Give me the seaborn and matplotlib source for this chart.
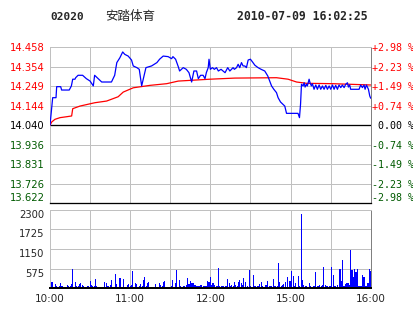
import matplotlib
matplotlib.use("Agg")
import matplotlib.pyplot as plt
import seaborn as sns

# ---------------- data ----------------
title_code = "02020"
title_name = "安踏体育"
title_time = "2010-07-09 16:02:25"

price_levels = [14.458, 14.354, 14.249, 14.144, 14.040, 13.936, 13.831, 13.726, 13.622]
price_labels = ["14.458", "14.354", "14.249", "14.144", "14.040", "13.936", "13.831", "13.726", "13.622"]
pct_labels = ["+2.98 %", "+2.23 %", "+1.49 %", "+0.74 %", " 0.00 %", "-0.74 %", "-1.49 %", "-2.23 %", "-2.98 %"]
prev_close = 14.040

vol_levels = [2300, 1725, 1150, 575]
vol_labels = ["2300", "1725", "1150", "575"]

time_ticks = [0, 30, 60, 90, 120, 150, 180, 210, 240]
time_labels = ["10:00", "", "11:00", "", "12:00", "", "15:00", "", "16:00"]

# minutes since 10:00 (trading minutes, lunch removed)
price_t = [0, 1.3, 2, 4.5, 5, 8, 8.7, 14.4, 16, 17, 18.7, 19.2, 21, 24.4, 27.2, 30, 32.4, 33.4,
           38.7, 46, 48.4, 50, 52.3, 54.4, 56, 58.5, 61, 62.3, 65, 66.8, 68.6, 71.8, 76, 80, 82,
           84.7, 88.4, 91, 92, 94, 96, 97, 99.7, 102, 104, 106, 107.7, 109.7, 111, 112.7, 114.6,
           116, 117, 118.4, 119, 120, 121.6, 123, 124.6, 126, 128, 131, 133, 134.6, 137, 138,
           139.6, 140.8, 142, 143.3, 144.5, 145.8, 147, 148.3, 150, 151.6, 153.3, 155.7, 158,
           160.7, 163, 165.8, 167.5, 169.5, 170.7, 172.5, 175.7, 177, 185.6, 186.7, 187.5, 188.2,
           189.4, 190.2, 190.9, 191.9, 192.6, 193.9, 194.6, 195.6, 196.4, 197.6, 198.9, 200.1,
           201.4, 202.6, 203.9, 205.1, 206.4, 207.6, 208.9, 210.1, 211.4, 212.6, 213.8, 215.1,
           216.3, 217.6, 218.8, 220.1, 221.3, 222.6, 223.3, 224.3, 225.0, 231.3, 232.5, 233.8,
           235.0, 235.8, 236.8, 237.5, 238.3, 239.3, 240]
price_v = [14.040, 14.134, 14.188, 14.188, 14.247, 14.247, 14.229, 14.229, 14.251, 14.287, 14.287,
           14.295, 14.308, 14.308, 14.290, 14.277, 14.251, 14.308, 14.272, 14.272, 14.308, 14.376,
           14.402, 14.433, 14.420, 14.411, 14.390, 14.358, 14.349, 14.340, 14.251, 14.349, 14.358,
           14.376, 14.394, 14.411, 14.408, 14.397, 14.408, 14.394, 14.354, 14.331, 14.349, 14.340,
           14.322, 14.272, 14.331, 14.331, 14.290, 14.308, 14.308, 14.290, 14.322, 14.349, 14.394,
           14.340, 14.349, 14.340, 14.349, 14.331, 14.340, 14.322, 14.349, 14.331, 14.349, 14.340,
           14.349, 14.367, 14.349, 14.376, 14.358, 14.358, 14.349, 14.390, 14.394, 14.379, 14.362,
           14.349, 14.340, 14.331, 14.304, 14.251, 14.233, 14.215, 14.188, 14.165, 14.143, 14.104,
           14.104, 14.081, 14.153, 14.260, 14.251, 14.268, 14.245, 14.260, 14.251, 14.287, 14.268,
           14.251, 14.263, 14.233, 14.256, 14.233, 14.256, 14.233, 14.251, 14.233, 14.254, 14.233,
           14.251, 14.233, 14.256, 14.233, 14.254, 14.233, 14.256, 14.242, 14.256, 14.242, 14.260,
           14.268, 14.245, 14.256, 14.233, 14.233, 14.256, 14.242, 14.256, 14.233, 14.256, 14.245,
           14.233, 14.197, 14.185]

avg_t = [0, 1.3, 3.7, 7.5, 12.5, 16.2, 17, 22.4, 28.6, 33.6, 42.4, 51, 54.8, 62.3, 74.8, 87.3,
         96, 119.6, 138.3, 169.5, 178.2, 184.5, 192, 211.8, 240]
avg_v = [14.040, 14.058, 14.072, 14.081, 14.086, 14.090, 14.129, 14.143, 14.153, 14.161, 14.170,
         14.193, 14.218, 14.241, 14.254, 14.263, 14.277, 14.287, 14.293, 14.295, 14.287, 14.272,
         14.265, 14.263, 14.256]

vol_t = [0, 1, 2, 4, 5, 7, 8, 9, 13, 14, 15, 16, 17, 19, 20, 21, 22, 23, 24, 25, 28, 29, 30, 31,
         32, 33, 34, 35, 41, 42, 43, 44, 45, 46, 47, 49, 50, 52, 53, 55, 58, 59, 60, 61, 62, 64,
         65, 67, 68, 69, 70, 71, 72, 73, 74, 79, 82, 83, 84, 85, 86, 91, 92, 94, 95, 97, 98, 100,
         101, 102, 103, 104, 105, 106, 107, 108, 109, 110, 111, 112, 113, 115, 116, 117, 118,
         119, 120, 121, 122, 123, 125, 126, 127, 128, 129, 130, 131, 132, 133, 134, 135, 136,
         137, 138, 139, 140, 141, 142, 143, 144, 145, 146, 148, 149, 150, 152, 153, 154, 155,
         156, 157, 158, 159, 161, 162, 163, 164, 165, 166, 167, 168, 169, 170, 171, 172, 173,
         174, 175, 176, 178, 179, 180, 181, 182, 183, 184, 186, 187, 188, 189, 190, 191, 192,
         194, 195, 197, 198, 199, 200, 201, 202, 203, 204, 205, 206, 207, 208, 209, 210, 211,
         212, 213, 214, 215, 217, 218, 219, 220, 221, 222, 223, 224, 225, 226, 227, 228, 229,
         230, 231, 232, 233, 234, 235, 236, 237, 238, 239, 240]
vol_v = [1750, 186, 186, 117, 59, 59, 156, 59, 100, 80, 80, 127, 566, 186, 59, 59, 127, 156, 100,
         59, 59, 59, 215, 100, 80, 80, 273, 59, 186, 156, 59, 59, 100, 244, 40, 420, 127, 303, 303,
         273, 100, 127, 59, 100, 508, 156, 127, 59, 127, 59, 244, 332, 59, 156, 186, 127, 156, 100,
         59, 186, 215, 59, 244, 156, 537, 244, 59, 59, 80, 100, 303, 127, 215, 156, 156, 100, 100,
         59, 59, 59, 100, 59, 59, 59, 215, 186, 332, 100, 156, 100, 59, 596, 59, 59, 59, 59, 59,
         59, 273, 156, 59, 100, 59, 186, 100, 59, 186, 244, 156, 100, 303, 186, 59, 537, 59, 391,
         59, 59, 59, 59, 127, 186, 59, 100, 100, 215, 59, 59, 59, 273, 59, 59, 59, 742, 186, 59,
         100, 127, 186, 332, 215, 215, 508, 361, 59, 156, 361, 59, 2178, 244, 100, 59, 59, 156,
         59, 59, 59, 479, 59, 59, 100, 59, 100, 625, 100, 59, 59, 59, 59, 625, 391, 59, 59, 100,
         566, 215, 830, 59, 127, 156, 156, 100, 1123, 537, 332, 566, 479, 566, 59, 59, 59, 391,
         332, 59, 59, 156, 566, 508]

# ---------------- style ----------------
sns.set_style("white")
RED = "#ff0000"
GREEN = "#005a00"
BLUE = "#0000ff"
GRID = "#c0c0c0"
DARK = "#808080"
PX = 0.72  # one pixel at 100 dpi
plt.rcParams["font.family"] = ["DejaVu Sans"]


def color_for(v):
    if abs(v - prev_close) < 1e-6:
        return "black"
    return RED if v > prev_close else GREEN


fig = plt.figure(figsize=(4.14, 3.14), dpi=100, facecolor="white")
W, H = 414.0, 314.0
ax = fig.add_axes([50 / W, 1 - 203.3 / H, 320.7 / W, 156 / H])
axv = fig.add_axes([50 / W, 1 - 288.3 / H, 320.7 / W, 78.8 / H])

# ---------------- price panel ----------------
ax.set_xlim(0, 240)
ax.set_ylim(price_levels[-1], price_levels[0])
for lv in price_levels[1:-1]:
    ax.axhline(lv, color=GRID, linewidth=PX, zorder=1, snap=True)
for tt in time_ticks[1:-1]:
    ax.axvline(tt, color=GRID, linewidth=PX, zorder=1, snap=True)
sns.lineplot(x=avg_t, y=avg_v, ax=ax, color=RED, linewidth=0.9, estimator=None, sort=False, zorder=3)
sns.lineplot(x=price_t, y=price_v, ax=ax, color=BLUE, linewidth=0.9, estimator=None, sort=False, zorder=4)
ax.axhline(prev_close, color="black", linewidth=PX * 1.3, zorder=2.5, snap=True)

ax.set_xlim(0, 240)
ax.set_ylim(price_levels[-1], price_levels[0])
ax.set_xticks(time_ticks)
ax.set_xticklabels([""] * len(time_ticks))
ax.set_yticks(price_levels)
ax.set_yticklabels(price_labels, fontsize=7.2)
for lab, v in zip(ax.get_yticklabels(), price_levels):
    lab.set_color(color_for(v))
ax.get_yticklabels()[-1].set_verticalalignment("bottom")
ax.tick_params(axis="both", length=0, pad=4)
ax.set_xlabel("")
ax.set_ylabel("")
ax.grid(False)
for s in ["top", "left"]:
    ax.spines[s].set_color(GRID)
    ax.spines[s].set_linewidth(PX)
ax.spines["right"].set_color(DARK)
ax.spines["right"].set_linewidth(PX)
ax.spines["bottom"].set_color("black")
ax.spines["bottom"].set_linewidth(PX * 1.3)

axr = ax.twinx()
axr.grid(False)
axr.set_ylim(price_levels[-1], price_levels[0])
axr.set_yticks(price_levels)
axr.set_yticklabels(pct_labels, fontsize=7.2, fontfamily="DejaVu Sans Mono")
for lab, v in zip(axr.get_yticklabels(), price_levels):
    lab.set_color(color_for(v))
axr.get_yticklabels()[-1].set_verticalalignment("bottom")
axr.tick_params(axis="y", length=0, pad=1.2)
for s in axr.spines.values():
    s.set_visible(False)

# ---------------- volume panel ----------------
axv.set_xlim(0, 240)
axv.set_ylim(0, 2300)
for lv in vol_levels[1:]:
    axv.axhline(lv, color=GRID, linewidth=PX, zorder=1, snap=True)
for tt in time_ticks[1:-1]:
    axv.axvline(tt, color=GRID, linewidth=PX, zorder=1, snap=True)
sns.barplot(x=vol_t, y=vol_v, ax=axv, native_scale=True, color=BLUE, saturation=1,
            width=0.8, errorbar=None, linewidth=0, zorder=2)
axv.set_xlim(0, 240)
axv.set_ylim(0, 2300)
axv.set_xticks(time_ticks)
axv.set_xticklabels(time_labels, fontsize=7.5)
axv.set_yticks(vol_levels)
axv.set_yticklabels(vol_labels, fontsize=7.2)
for lab in axv.get_yticklabels():
    lab.set_verticalalignment("top")
axv.tick_params(axis="both", length=0, pad=4)
axv.set_xlabel("")
axv.set_ylabel("")
axv.grid(False)
for s in ["top", "left"]:
    axv.spines[s].set_color(GRID)
    axv.spines[s].set_linewidth(PX)
axv.spines["right"].set_color(DARK)
axv.spines["right"].set_linewidth(PX)
axv.spines["bottom"].set_color("black")
axv.spines["bottom"].set_linewidth(PX * 2)

# ---------------- title ----------------
ty = 1 - 16.5 / H
fig.text(50 / W, ty, title_code, fontfamily="DejaVu Sans Mono", fontweight="bold", fontsize=8,
         va="center", ha="left")
fig.text(105 / W, ty, title_name, family=["Noto Sans CJK SC", "DejaVu Sans"], fontsize=9,
         va="center", ha="left")
fig.text(237 / W, ty, title_time, fontfamily="DejaVu Sans Mono", fontweight="bold", fontsize=8.3,
         va="center", ha="left")

fig.savefig("out.png", dpi=100, facecolor="white")
